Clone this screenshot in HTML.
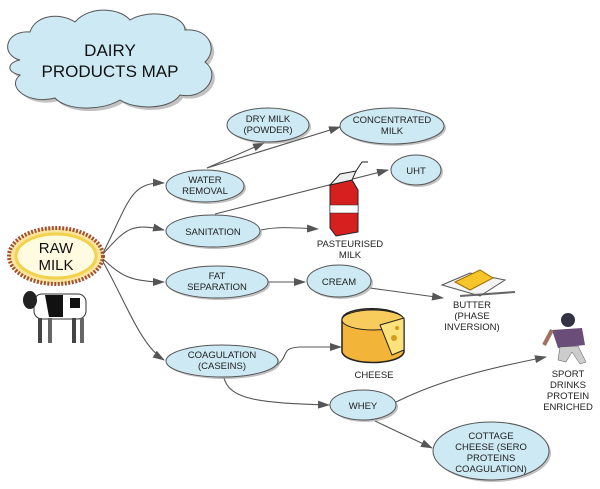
<!DOCTYPE html>
<html><head><meta charset="utf-8"><style>
html,body{margin:0;padding:0;background:#fff;}
svg{display:block;font-family:"Liberation Sans",sans-serif;}
</style></head><body>
<svg width="600" height="489" viewBox="0 0 600 489" xmlns="http://www.w3.org/2000/svg">
<defs>
<marker id="a" markerWidth="12" markerHeight="8" refX="11" refY="4" orient="auto" markerUnits="userSpaceOnUse">
<path d="M0,0 L12,4 L0,8 Z" fill="#555"/></marker>
</defs>
<!-- title cloud -->
<g transform="translate(3,3)" fill="#999" opacity="0.6">
<path d="M20,60 C0,55 5,30 30,32 C35,15 60,12 75,22 C90,5 120,8 130,20 C150,8 185,15 185,30 C210,28 218,50 205,62 C222,75 205,100 180,95 C170,110 135,110 120,100 C100,112 65,110 55,98 C30,105 5,88 20,75 C5,72 8,62 20,60 Z"/>
</g>
<path d="M20,60 C0,55 5,30 30,32 C35,15 60,12 75,22 C90,5 120,8 130,20 C150,8 185,15 185,30 C210,28 218,50 205,62 C222,75 205,100 180,95 C170,110 135,110 120,100 C100,112 65,110 55,98 C30,105 5,88 20,75 C5,72 8,62 20,60 Z" fill="#cde9f3" stroke="#555" stroke-width="1"/>
<text x="110" y="56" font-size="17" text-anchor="middle" fill="#111">DAIRY</text>
<text x="110" y="77" font-size="17" text-anchor="middle" fill="#111">PRODUCTS MAP</text>

<!-- connectors -->
<g fill="none" stroke="#555" stroke-width="1.1">
<path d="M102,255 C130,200 130,182 164,183" marker-end="url(#a)"/>
<path d="M102,255 C125,230 130,222 164,230" marker-end="url(#a)"/>
<path d="M102,258 C120,275 130,282 164,282" marker-end="url(#a)"/>
<path d="M102,260 C125,300 140,345 164,360" marker-end="url(#a)"/>
<path d="M207,168 L264,143" marker-end="url(#a)"/>
<path d="M207,168 L340,127" marker-end="url(#a)"/>
<path d="M215,214 L388,170" marker-end="url(#a)"/>
<path d="M261,230 C280,226 295,228 318,229" marker-end="url(#a)"/>
<path d="M268,282 L305,282" marker-end="url(#a)"/>
<path d="M370,288 L443,298" marker-end="url(#a)"/>
<path d="M277,365 C290,355 280,348 300,347 L341,347" marker-end="url(#a)"/>
<path d="M224,378 C230,400 260,403 329,405" marker-end="url(#a)"/>
<path d="M396,402 C440,380 490,368 546,357" marker-end="url(#a)"/>
<path d="M375,421 L432,448" marker-end="url(#a)"/>
</g>

<!-- ellipses -->
<g fill="#999" opacity="0.6">
<ellipse cx="270" cy="127" rx="41" ry="17"/>
<ellipse cx="394" cy="128" rx="52" ry="18"/>
<ellipse cx="207" cy="188" rx="39" ry="16"/>
<ellipse cx="418" cy="172" rx="25" ry="15"/>
<ellipse cx="215" cy="233" rx="47" ry="16"/>
<ellipse cx="219" cy="284" rx="51" ry="16"/>
<ellipse cx="341" cy="283" rx="32" ry="16"/>
<ellipse cx="224" cy="363" rx="56" ry="16"/>
<ellipse cx="365" cy="407" rx="33" ry="15"/>
<ellipse cx="493" cy="453" rx="58" ry="29"/>
</g>
<g fill="#cde9f3" stroke="#555" stroke-width="1">
<ellipse cx="268" cy="125" rx="41" ry="17"/>
<ellipse cx="392" cy="126" rx="52" ry="18"/>
<ellipse cx="205" cy="186" rx="39" ry="16"/>
<ellipse cx="416" cy="170" rx="25" ry="15"/>
<ellipse cx="213" cy="231" rx="47" ry="16"/>
<ellipse cx="217" cy="282" rx="51" ry="16"/>
<ellipse cx="339" cy="281" rx="32" ry="16"/>
<ellipse cx="222" cy="361" rx="56" ry="16"/>
<ellipse cx="363" cy="405" rx="33" ry="15"/>
<ellipse cx="491" cy="451" rx="58" ry="29"/>
</g>
<g font-size="9.5" text-anchor="middle" fill="#222">
<text x="268" y="122">DRY MILK</text><text x="268" y="133">(POWDER)</text>
<text x="392" y="123">CONCENTRATED</text><text x="392" y="134">MILK</text>
<text x="205" y="183">WATER</text><text x="205" y="194">REMOVAL</text>
<text x="416" y="174">UHT</text>
<text x="213" y="235">SANITATION</text>
<text x="217" y="279">FAT</text><text x="217" y="290">SEPARATION</text>
<text x="339" y="285">CREAM</text>
<text x="222" y="358">COAGULATION</text><text x="222" y="369">(CASEINS)</text>
<text x="363" y="409">WHEY</text>
<text x="491" y="439">COTTAGE</text><text x="491" y="450">CHEESE (SERO</text><text x="491" y="461">PROTEINS</text><text x="491" y="472">COAGULATION)</text>
<text x="350" y="247">PASTEURISED</text><text x="350" y="258">MILK</text>
<text x="472" y="308">BUTTER</text><text x="472" y="319">(PHASE</text><text x="472" y="330">INVERSION)</text>
<text x="374" y="378">CHEESE</text>
<text x="568" y="377">SPORT</text><text x="568" y="388">DRINKS</text><text x="568" y="399">PROTEIN</text><text x="568" y="410">ENRICHED</text>
</g>

<!-- raw milk burst -->
<ellipse cx="56" cy="256" rx="47" ry="28" fill="#fbe3a0" stroke="#a0522d" stroke-width="4" stroke-dasharray="2 1.5"/>
<ellipse cx="56" cy="256" rx="40" ry="22" fill="#fffbe0" stroke="#f2d24a" stroke-width="3"/>
<text x="56" y="253" font-size="15" text-anchor="middle" fill="#111">RAW</text>
<text x="56" y="270" font-size="15" text-anchor="middle" fill="#111">MILK</text>

<!-- cow -->
<g>
<rect x="34" y="294" width="52" height="25" rx="8" fill="#fff" stroke="#333"/>
<path d="M45,295 h18 v22 h-14 z" fill="#111"/>
<path d="M70,298 h10 v10 h-10z" fill="#111"/>
<ellipse cx="30" cy="300" rx="7" ry="9" fill="#222"/>
<rect x="38" y="318" width="4" height="25" fill="#444"/>
<rect x="48" y="318" width="4" height="25" fill="#666"/>
<rect x="72" y="318" width="4" height="25" fill="#444"/>
<rect x="80" y="318" width="4" height="25" fill="#666"/>
</g>

<!-- milk carton -->
<g>
<path d="M330,185 L352,180 L358,190 L358,232 L336,236 L330,228 Z" fill="#d62020" stroke="#222"/>
<path d="M330,185 L340,174 L356,171 L352,180 Z" fill="#eee" stroke="#222"/>
<rect x="330" y="205" width="28" height="8" fill="#fff" stroke="#222" stroke-width="0.5"/>
<path d="M356,171 L362,162 L368,162" fill="none" stroke="#222"/>
</g>

<!-- butter -->
<g>
<path d="M442,285 L470,273 L505,280 L480,296 Z" fill="#f4f4f4" stroke="#555"/>
<path d="M455,282 L480,270 L493,278 L470,290 Z" fill="#f6c52a" stroke="#a07000"/>
<path d="M460,296 L515,292" stroke="#666" stroke-width="2"/>
</g>

<!-- cheese -->
<g>
<path d="M342,320 C342,305 400,305 404,320 L404,352 C400,366 346,366 342,352 Z" fill="#f2b53a" stroke="#222" stroke-width="1.5"/>
<ellipse cx="373" cy="320" rx="31" ry="10" fill="#f8cc5c" stroke="#222"/>
<path d="M380,325 L404,318 L404,350 L392,355 Z" fill="#fbe27a" stroke="#222"/>
<circle cx="394" cy="338" r="3" fill="#d89a20"/><circle cx="397" cy="328" r="2" fill="#d89a20"/>
</g>

<!-- player -->
<g>
<circle cx="568" cy="320" r="7" fill="#334"/>
<path d="M552,330 L582,328 L585,345 L558,348 Z" fill="#6a4d78"/>
<path d="M560,347 L578,346 L586,362 L580,364 L572,352 L566,362 L558,360 Z" fill="#ccc" stroke="#555" stroke-width="0.5"/>
<path d="M552,330 L544,345" stroke="#a07060" stroke-width="4"/>
</g>
</svg>
</body></html>
